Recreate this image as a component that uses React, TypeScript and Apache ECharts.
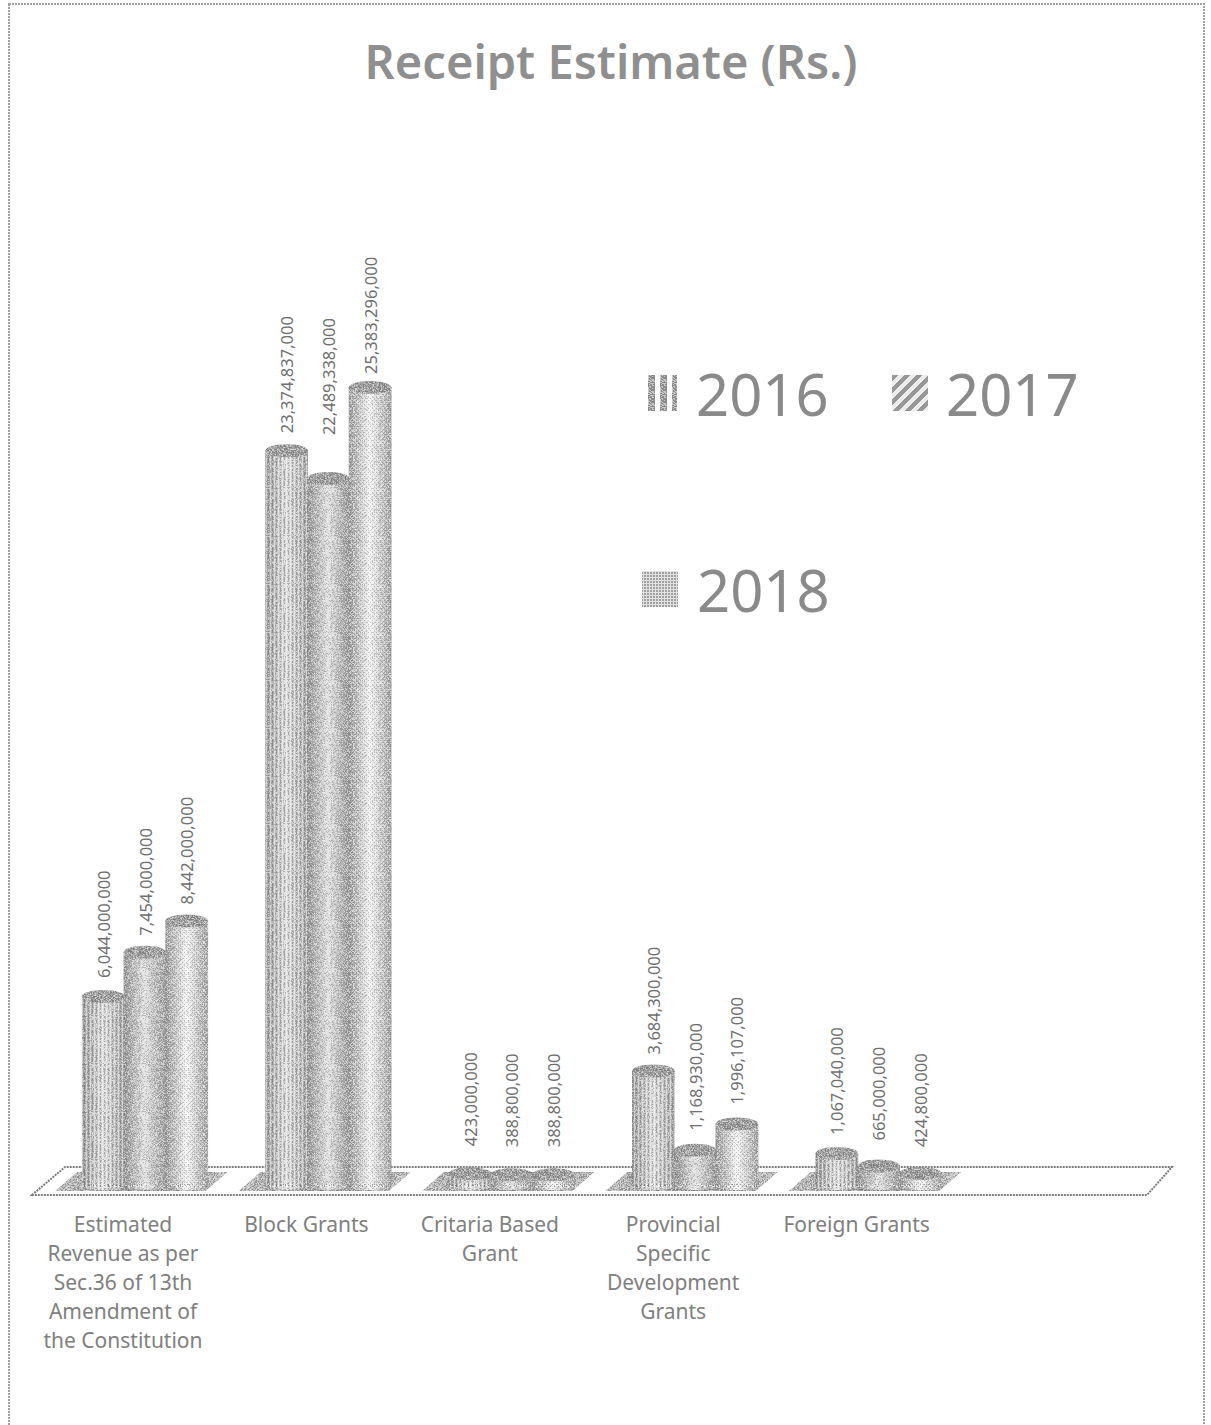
import React, { useEffect, useRef } from "react";
import * as echarts from "echarts";

const categories = [
  "Estimated\nRevenue as per\nSec.36 of 13th\nAmendment of\nthe Constitution",
  "Block Grants",
  "Critaria Based\nGrant",
  "Provincial\nSpecific\nDevelopment\nGrants",
  "Foreign Grants",
  "",
];
const values2016 = [6044000000, 23374837000, 423000000, 3684300000, 1067040000];
const values2017 = [7454000000, 22489338000, 388800000, 1168930000, 665000000];
const values2018 = [8442000000, 25383296000, 388800000, 1996107000, 424800000];
const seriesNames = ["2016", "2017", "2018"];
const gaps2016 = [12, 11, 21, 10, 12];
const gaps2017 = [10, 37, 21, 13, 19];
const gaps2018 = [10, 7, 21, 13, 20];

const FONT = '"Noto Sans", sans-serif';

function tile(size: number, paint: (x: number, y: number) => string | null) {
  const c = document.createElement("canvas");
  c.width = size;
  c.height = size;
  const g = c.getContext("2d")!;
  for (let y = 0; y < size; y++) {
    for (let x = 0; x < size; x++) {
      const col = paint(x, y);
      if (col) {
        g.fillStyle = col;
        g.fillRect(x, y, 1, 1);
      }
    }
  }
  return { image: c.toDataURL(), repeat: "repeat", imageWidth: size, imageHeight: size } as any;
}

// deterministic speckle used only as print-like paper texture
const speck = (x: number, y: number) => {
  const h = Math.sin(x * 12.9898 + y * 78.233) * 43758.5453;
  return h - Math.floor(h);
};

export default function App() {
  const ref = useRef<HTMLDivElement>(null);
  useEffect(() => {
    const chart = echarts.init(ref.current!, undefined, { renderer: "svg" });
    const grain = [
      tile(48, (x, y) => {
        const s = speck(x, y);
        if (x % 4 === 0 && s < 0.6) return "rgba(50,50,50,0.28)";
        if (x % 4 === 2 && s < 0.7) return "rgba(255,255,255,0.55)";
        return s < 0.12 ? "rgba(50,50,50,0.22)" : s > 0.8 ? "rgba(255,255,255,0.4)" : null;
      }),
      tile(48, (x, y) => {
        const s = speck(x, y);
        if ((x + y) % 5 === 0 && s < 0.4) return "rgba(50,50,50,0.22)";
        return s < 0.14 ? "rgba(50,50,50,0.22)" : s > 0.72 ? "rgba(255,255,255,0.45)" : null;
      }),
      tile(48, (x, y) => {
        const s = speck(x, y);
        if ((x + y) % 4 === 0 && (x - y + 48) % 4 === 0) return "rgba(50,50,50,0.22)";
        return s < 0.12 ? "rgba(50,50,50,0.2)" : s > 0.68 ? "rgba(255,255,255,0.5)" : null;
      }),
    ];
    const dense = tile(48, (x, y) => {
      const s = speck(x, y);
      return s < 0.3 ? "rgba(50,50,50,0.3)" : s > 0.8 ? "rgba(255,255,255,0.45)" : null;
    });
    const icons = [
      tile(12, (x, y) => (x % 12 < 7 ? (speck(x, y) < 0.3 ? "#c8c8c8" : "#8b8b8b") : null)),
      tile(12, (x, y) => ((x + y) % 12 < 6 ? "#989898" : "#ececec")),
      tile(6, (x, y) => (((x + y) % 6 < 3) !== ((x - y + 6) % 6 < 3) ? "#a0a0a0" : "#e2e2e2")),
    ];
    const shades: [string, string, string][] = [
      ["#9a9a9a", "#dcdcdc", "#a4a4a4"],
      ["#929292", "#e0e0e0", "#989898"],
      ["#989898", "#f4f4f4", "#a2a2a2"],
    ];
    const all = [values2016, values2017, values2018];
    const gaps = [gaps2016, gaps2017, gaps2018];

    const barSeries = seriesNames.map((name, si) => ({
      type: "custom",
      name,
      coordinateSystem: "cartesian2d",
      xAxisIndex: 0,
      yAxisIndex: 0,
      z: 3 + si,
      silent: true,
      itemStyle: { color: icons[si] },
      data: all[si].map((v, i) => [i, v, gaps[si][i]]),
      renderItem: (_p: any, api: any) => {
        const cat = api.value(0);
        const val = api.value(1);
        const top = api.coord([cat, val]);
        const base = api.coord([cat, 0]);
        const w = api.size([1, 0])[0] * 0.2275;
        const cx = top[0] + (si - 1) * w;
        const rx = w / 2 + 0.5;
        const ry = 6.5;
        const x = cx - rx;
        const h = base[1] - top[1];
        const grad = new echarts.graphic.LinearGradient(0, 0, 1, 0, [
          { offset: 0, color: shades[si][0] },
          { offset: 0.5, color: shades[si][1] },
          { offset: 1, color: shades[si][2] },
        ]);
        return {
          type: "group",
          children: [
            { type: "rect", shape: { x, y: top[1], width: rx * 2, height: h }, style: { fill: grad } },
            { type: "ellipse", shape: { cx, cy: base[1], rx, ry: 3 }, style: { fill: grad } },
            { type: "rect", shape: { x, y: top[1], width: rx * 2, height: h }, style: { fill: grain[si] } },
            { type: "ellipse", shape: { cx, cy: base[1], rx, ry: 3 }, style: { fill: grain[si] } },
            { type: "ellipse", shape: { cx, cy: top[1], rx, ry }, style: { fill: "#a4a4a4" } },
            { type: "ellipse", shape: { cx, cy: top[1], rx, ry }, style: { fill: dense } },
            {
              type: "text",
              x: cx,
              y: top[1] - ry - api.value(2),
              rotation: Math.PI / 2,
              style: {
                text: Number(val).toLocaleString("en-US"),
                fill: "#707070",
                font: `16.5px ${FONT}`,
                align: "left",
                verticalAlign: "middle",
              },
            },
          ],
        };
      },
    }));

    const shadowSeries = {
      type: "custom",
      name: "floor",
      coordinateSystem: "cartesian2d",
      xAxisIndex: 0,
      yAxisIndex: 0,
      z: 2,
      silent: true,
      data: values2016.map((_, i) => [i, 0]),
      renderItem: (_p: any, api: any) => {
        const c = api.coord([api.value(0), 0]);
        const s = api.size([1, 0])[0];
        const b = c[1];
        const points = [
          [c[0] - s * 0.49, b + 4],
          [c[0] - s * 0.37, b - 15],
          [c[0] + s * 0.45, b - 15],
          [c[0] + s * 0.33, b + 4],
        ];
        return {
          type: "group",
          children: [
            {
              type: "polygon",
              shape: { points },
              style: {
                fill: new echarts.graphic.LinearGradient(0, 0, 1, 0, [
                  { offset: 0, color: "#c4c4c4" },
                  { offset: 0.5, color: "#989898" },
                  { offset: 1, color: "#c8c8c8" },
                ]),
              },
            },
            { type: "polygon", shape: { points }, style: { fill: dense } },
          ],
        };
      },
    };

    const legendBase = (gap: number) => ({
      icon: "rect",
      orient: "horizontal",
      itemHeight: 36,
      selectedMode: false,
      itemGap: 0,
      padding: 0,
      textStyle: { color: "#8a8a8a", fontSize: 58, fontFamily: FONT, padding: [0, 0, 0, gap] },
    });

    chart.setOption({
      animation: false,
      backgroundColor: "#ffffff",
      title: {
        text: "Receipt Estimate (Rs.)",
        left: 611,
        textAlign: "center",
        top: 37,
        padding: 0,
        textStyle: {
          color: "#8f8f8f",
          fontSize: 47,
          fontWeight: 600,
          fontFamily: FONT,
        },
      },
      legend: [
        { ...legendBase(14), data: [{ name: "2016" }], left: 648, top: 364, itemWidth: 29 },
        { ...legendBase(13), data: [{ name: "2017" }], left: 892, top: 364, itemWidth: 36 },
        { ...legendBase(14), data: [{ name: "2018" }], left: 642, top: 560, itemWidth: 36 },
      ],
      grid: [
        { left: 53.3, top: 242, width: 1100.4, height: 945, containLabel: false },
        { left: 31.3, top: 242, width: 1100.4, height: 945, containLabel: false },
      ],
      xAxis: [
        { type: "category", gridIndex: 0, data: categories, show: false },
        {
          type: "category",
          gridIndex: 1,
          data: categories,
          axisLine: { show: false },
          axisTick: { show: false },
          axisLabel: {
            interval: 0,
            margin: 22,
            color: "#808080",
            fontFamily: FONT,
            fontSize: 21,
            lineHeight: 29,
            align: "center",
          },
        },
      ],
      yAxis: [
        { type: "value", gridIndex: 0, min: 0, max: 30000000000, show: false },
        { type: "value", gridIndex: 1, min: 0, max: 30000000000, show: false },
      ],
      series: [shadowSeries, ...barSeries],
      graphic: [
        {
          type: "polygon",
          z: 0,
          silent: true,
          shape: { points: [[32, 1195], [65, 1167], [1172, 1167], [1147, 1195]] },
          style: { fill: "none", stroke: "#7c7c7c", lineWidth: 2, lineDash: [2, 1] },
        },
        {
          type: "rect",
          z: 0,
          silent: true,
          shape: { x: 9, y: 4, width: 1195, height: 1440 },
          style: { fill: "none", stroke: "#a0a0a0", lineWidth: 2, lineDash: [2, 1] },
        },
      ],
    });
    return () => chart.dispose();
  }, []);
  return <div ref={ref} style={{ position: "absolute", left: 0, top: 0, width: 1211, height: 1425 }} />;
}
